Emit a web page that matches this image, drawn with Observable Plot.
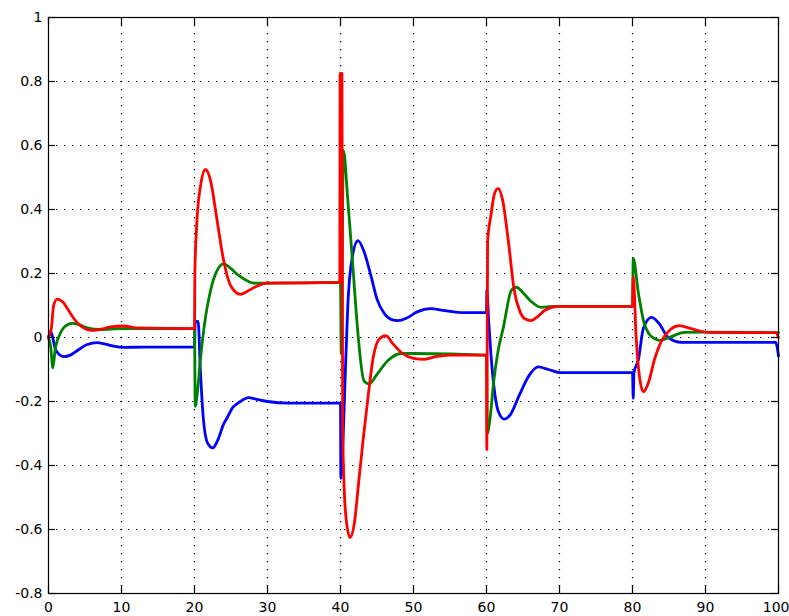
<!DOCTYPE html>
<html>
<head>
<meta charset="utf-8">
<script src="https://cdn.jsdelivr.net/npm/d3@7"></script>
<script src="https://cdn.jsdelivr.net/npm/@observablehq/plot@0.6"></script>
<style>
  html, body { margin: 0; padding: 0; background: #fff; }
  #chart { width: 789px; height: 616px; overflow: hidden; }
</style>
</head>
<body>
<div id="chart"></div>
<script>
const xTicks = [0, 10, 20, 30, 40, 50, 60, 70, 80, 90, 100];
const yTicks = [-0.8, -0.6, -0.4, -0.2, 0, 0.2, 0.4, 0.6, 0.8, 1];

const blue = [
  [0, 0.0], [0.3, 0.02], [1, -0.04], [2.1, -0.06], [3, -0.055], [4, -0.04], [5.3, -0.022], [6.7, -0.016],
  [8.5, -0.025], [10.3, -0.031], [13, -0.03], [20, -0.03],
  [20.1, 0.05], [20.5, 0.05], [20.8, -0.1], [21.2, -0.25], [21.8, -0.33], [22.5, -0.345], [23.2, -0.32],
  [24, -0.27], [24.5, -0.25], [25.2, -0.22], [25.9, -0.206], [26.6, -0.195], [27.4, -0.188], [28.5, -0.193],
  [30, -0.2], [33, -0.205], [40, -0.205],
  [40.05, -0.44], [40.3, -0.35], [40.6, -0.15], [41, 0.1], [41.6, 0.25], [42.4, 0.303], [43.2, 0.27],
  [44.2, 0.19], [45, 0.12], [46, 0.075], [47, 0.056], [47.9, 0.053], [49, 0.06], [50.5, 0.08], [52.4, 0.09],
  [54, 0.085], [56.5, 0.078], [60, 0.078],
  [60.05, 0.15], [60.3, 0.05], [60.6, -0.05], [61, -0.15], [61.6, -0.23], [62.4, -0.255], [63.3, -0.24],
  [64.5, -0.18], [65.8, -0.12], [67.1, -0.092], [68.5, -0.1], [70.2, -0.11], [80, -0.11],
  [80.1, -0.19], [80.2, -0.11], [80.8, -0.07], [81.5, 0.03], [82.6, 0.063], [83.6, 0.045], [84.9, 0.0],
  [86.7, -0.015], [90, -0.015], [99.6, -0.015], [100, -0.058]
];

const green = [
  [0, 0], [0.3, -0.03], [0.6, -0.095], [0.9, -0.04], [1.6, 0.012], [2.6, 0.04], [3.3, 0.044], [4.2, 0.04],
  [5.3, 0.03], [7.1, 0.025], [10, 0.028], [20, 0.028],
  [20.1, -0.215], [20.4, -0.17], [20.8, -0.07], [21.3, 0.03], [22.2, 0.147], [23, 0.205], [24, 0.23],
  [25, 0.215], [26, 0.195], [27, 0.18], [28.1, 0.17], [30, 0.17], [40, 0.172],
  [40.1, -0.05], [40.4, 0.585], [41, 0.43], [41.7, 0.22], [42.4, 0.01], [43.2, -0.135], [43.9, -0.145],
  [45, -0.115], [46.5, -0.072], [48.3, -0.05], [50, -0.05], [60, -0.055],
  [60.1, -0.3], [60.5, -0.25], [61, -0.135], [61.6, -0.04], [62.3, 0.03], [63.4, 0.147], [64.1, 0.157],
  [65, 0.14], [66, 0.115], [67.5, 0.094], [69, 0.097], [80, 0.097],
  [80.1, 0.247], [80.8, 0.14], [81.6, 0.044], [82.3, 0.01], [83, -0.003], [83.7, -0.009], [85, 0.0],
  [87.1, 0.016], [90, 0.017], [100, 0.015]
];

const red = [
  [0, 0], [0.4, 0.03], [0.7, 0.1], [1.2, 0.12], [2, 0.11], [2.6, 0.09], [3.3, 0.065], [4, 0.045],
  [4.8, 0.03], [5.8, 0.022], [7, 0.025], [8.5, 0.033], [10.3, 0.036], [12, 0.03], [20, 0.028],
  [20.05, 0.2], [20.3, 0.35], [20.8, 0.47], [21.5, 0.525], [22.2, 0.49], [23, 0.38], [24, 0.24],
  [25, 0.16], [26.3, 0.135], [27.3, 0.145], [28.5, 0.16], [30, 0.17], [39.9, 0.172],
  [39.95, 0.825], [40.2, 0.825], [40.3, -0.3], [40.7, -0.55], [41.3, -0.625], [41.9, -0.58], [42.5, -0.45],
  [43.1, -0.32], [43.8, -0.18], [44.5, -0.06], [45.3, -0.005], [46.2, 0.006], [47.2, -0.02], [48.5, -0.05],
  [50, -0.065], [51.5, -0.068], [53, -0.06], [55, -0.055], [60, -0.055],
  [60.05, -0.35], [60.15, 0.3], [60.6, 0.38], [61.1, 0.45], [61.6, 0.466], [62.2, 0.43], [63, 0.3],
  [63.8, 0.147], [64.6, 0.08], [65.3, 0.058], [66.1, 0.053], [67, 0.065], [68, 0.085], [69.8, 0.097], [80, 0.097],
  [80.1, 0.19], [80.5, 0.0], [81, -0.13], [81.5, -0.17], [82.2, -0.14], [83, -0.07], [84, -0.01],
  [85.2, 0.025], [86.4, 0.037], [88, 0.028], [90.4, 0.016], [99.6, 0.015], [100, 0.0]
];

const series = [
  {name: "blue", data: blue, color: "#0000ff"},
  {name: "green", data: green, color: "#008000"},
  {name: "red", data: red, color: "#ff0000"}
];

const W = 789, H = 616, mL = 48, mR = 11, mT = 17, mB = 23;
const plotW = W - mL - mR, plotH = H - mT - mB;
const tickLenX = 8, tickLenY = 7;
const fmt = d => String(d);
const innerX = xTicks.slice(1, -1);
const innerY = yTicks.slice(1, -1);
const lastX = xTicks[xTicks.length - 1];
const dots = {stroke: "#000", strokeOpacity: 1, strokeWidth: 1.2, strokeDasharray: "1.2,6.8"};
const tickStyle = {stroke: "#000", strokeWidth: 1.2};

const chart = Plot.plot({
  width: W,
  height: H,
  marginLeft: mL,
  marginRight: mR,
  marginTop: mT,
  marginBottom: mB,
  style: {fontFamily: "DejaVu Sans", fontSize: "14px", background: "#fff", color: "#000"},
  x: {domain: [0, 100]},
  y: {domain: [-0.8, 1]},
  marks: [
    Plot.gridX(innerX, dots),
    Plot.gridY(innerY, dots),
    ...series.map(s => Plot.line(s.data, {x: d => d[0], y: d => d[1], stroke: s.color, strokeWidth: 2.8, strokeLinejoin: "round", curve: "monotone-x"})),
    // inward tick marks on all four sides
    Plot.ruleX(xTicks, {...tickStyle, insetTop: plotH - tickLenX}),
    Plot.ruleX(xTicks, {...tickStyle, insetBottom: plotH - tickLenX}),
    Plot.ruleY(yTicks, {...tickStyle, insetRight: plotW - tickLenY}),
    Plot.ruleY(yTicks, {...tickStyle, insetLeft: plotW - tickLenY}),
    Plot.axisX({anchor: "bottom", ticks: xTicks.slice(0, -1), tickSize: 0, tickPadding: 9, tickFormat: fmt, label: null}),
    Plot.axisX({anchor: "bottom", ticks: [lastX], tickSize: 0, tickPadding: 9, tickFormat: fmt, label: null, textAnchor: "end", dx: 11}),
    Plot.axisY({anchor: "left", ticks: yTicks, tickSize: 0, tickPadding: 6, tickFormat: fmt, label: null}),
    Plot.frame({stroke: "#000", strokeWidth: 1.2})
  ]
});
document.getElementById("chart").appendChild(chart);
</script>
</body>
</html>
